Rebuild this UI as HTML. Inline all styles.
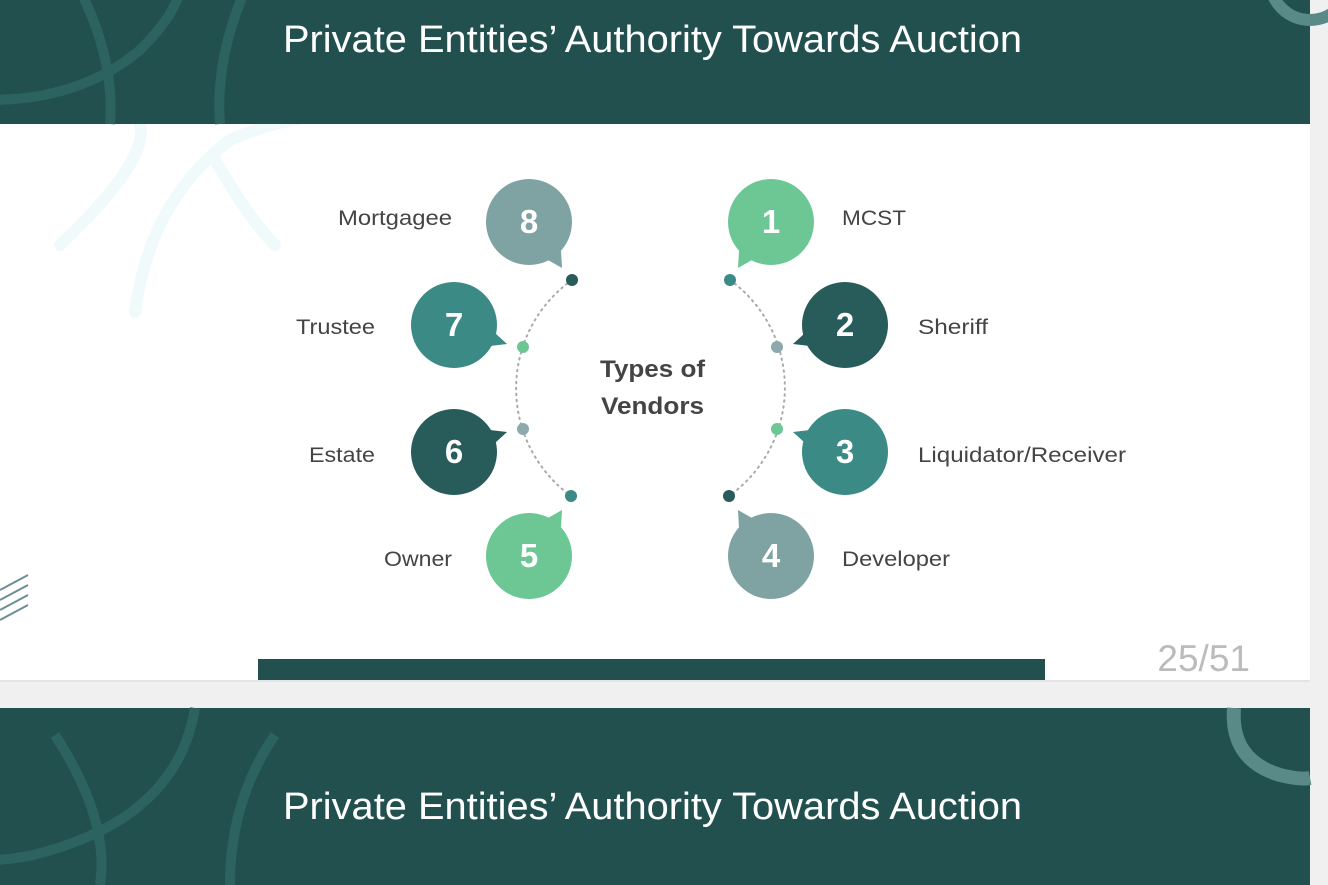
<!DOCTYPE html>
<html><head><meta charset="utf-8"><style>
html,body{margin:0;padding:0;width:1328px;height:885px;overflow:hidden;background:#f0f0f0;font-family:"Liberation Sans",sans-serif}
svg{display:block}
</style></head><body>
<svg width="1328" height="885" viewBox="0 0 1328 885" xmlns="http://www.w3.org/2000/svg" font-family="Liberation Sans, sans-serif">
<rect x="0" y="0" width="1328" height="885" fill="#f0f0f0"/>
<rect x="0" y="124" width="1310" height="556" fill="#ffffff"/>
<g fill="none" stroke="#f0fafa" stroke-width="12" stroke-linecap="round">
<path d="M60 245 Q150 160 140 124"/>
<path d="M135 312 Q150 200 230 140 Q280 118 330 115"/>
<path d="M215 160 Q250 220 275 245"/>
</g>
<rect x="0" y="0" width="1310" height="124" fill="#21504f"/>
<g fill="none" stroke="#2c6361" stroke-width="10">
<path d="M-10 100 Q80 100 140 50 Q175 15 180 -10"/>
<path d="M80 -10 Q115 60 110 124"/>
<path d="M245 -10 Q215 60 220 124"/>
</g>
<circle cx="1310" cy="-20" r="40" fill="none" stroke="#5a8a88" stroke-width="12"/>
<g fill="none" stroke="#6c8e95" stroke-width="2">
<path d="M0 590 L28 575"/><path d="M0 600 L28 585"/><path d="M0 610 L28 595"/><path d="M0 620 L28 605"/>
</g>
<text x="283" y="52" font-size="38" fill="#ffffff" textLength="739" lengthAdjust="spacingAndGlyphs">Private Entities’ Authority Towards Auction</text>

<g fill="none" stroke="#aaa" stroke-width="2" stroke-dasharray="1.5 4.5" stroke-linecap="round">
<path d="M572 280 A133 133 0 0 0 571 496"/>
<path d="M730 280 A133 133 0 0 1 729 496"/>
</g>
<g>
<circle cx="529" cy="222" r="43" fill="#7fa3a2"/><polygon points="562,268 561,250 548,260" fill="#7fa3a2"/>
<circle cx="771" cy="222" r="43" fill="#6cc795"/><polygon points="738,268 752,260 739,250" fill="#6cc795"/>
<circle cx="454" cy="325" r="43" fill="#3b8a86"/><polygon points="507,344 495,333 490,346" fill="#3b8a86"/>
<circle cx="845" cy="325" r="43" fill="#275c5b"/><polygon points="793,344 810,346 805,333" fill="#275c5b"/>
<circle cx="454" cy="452" r="43" fill="#275c5b"/><polygon points="507,432 495,443 490,430" fill="#275c5b"/>
<circle cx="845" cy="452" r="43" fill="#3b8a86"/><polygon points="793,432 805,443 810,430" fill="#3b8a86"/>
<circle cx="529" cy="556" r="43" fill="#6cc795"/><polygon points="562,510 561,528 548,518" fill="#6cc795"/>
<circle cx="771" cy="556" r="43" fill="#7fa3a2"/><polygon points="738,510 752,518 739,528" fill="#7fa3a2"/>
</g>
<g font-size="33" font-weight="bold" fill="#ffffff" text-anchor="middle">
<text x="529" y="233">8</text><text x="771" y="233">1</text>
<text x="454" y="336">7</text><text x="845" y="336">2</text>
<text x="454" y="463">6</text><text x="845" y="463">3</text>
<text x="529" y="567">5</text><text x="771" y="567">4</text>
</g>
<circle cx="572" cy="280" r="6" fill="#275c5b"/>
<circle cx="523" cy="347" r="6" fill="#6cc795"/>
<circle cx="523" cy="429" r="6" fill="#8ea9ab"/>
<circle cx="571" cy="496" r="6" fill="#3b8a86"/>
<circle cx="730" cy="280" r="6" fill="#3b8a86"/>
<circle cx="777" cy="347" r="6" fill="#8ea9ab"/>
<circle cx="777" cy="429" r="6" fill="#6cc795"/>
<circle cx="729" cy="496" r="6" fill="#275c5b"/>
<g font-size="24" font-weight="bold" fill="#444">
<text x="600" y="377" textLength="105" lengthAdjust="spacingAndGlyphs">Types of</text>
<text x="601" y="414" textLength="103" lengthAdjust="spacingAndGlyphs">Vendors</text>
</g>
<g font-size="21" fill="#444">
<text x="338" y="225" textLength="114" lengthAdjust="spacingAndGlyphs">Mortgagee</text>
<text x="296" y="334" textLength="79" lengthAdjust="spacingAndGlyphs">Trustee</text>
<text x="309" y="462" textLength="66" lengthAdjust="spacingAndGlyphs">Estate</text>
<text x="384" y="566" textLength="68" lengthAdjust="spacingAndGlyphs">Owner</text>
<text x="842" y="225" textLength="64" lengthAdjust="spacingAndGlyphs">MCST</text>
<text x="918" y="334" textLength="70" lengthAdjust="spacingAndGlyphs">Sheriff</text>
<text x="918" y="462" textLength="208" lengthAdjust="spacingAndGlyphs">Liquidator/Receiver</text>
<text x="842" y="566" textLength="108" lengthAdjust="spacingAndGlyphs">Developer</text>
</g>
<rect x="258" y="659" width="787" height="21" fill="#21504f"/>
<text x="1250" y="671" font-size="37" fill="#bbbbbb" text-anchor="end">25/51</text>
<rect x="0" y="680" width="1310" height="2" fill="#e4e4e4"/>
<rect x="0" y="708" width="1310" height="177" fill="#21504f"/>
<g fill="none" stroke="#2c6361" stroke-width="10">
<path d="M55 735 Q110 820 100 885"/>
<path d="M195 708 Q180 800 80 840 Q30 860 -10 860"/>
<path d="M275 735 Q230 800 230 885"/>
</g>
<path d="M1234 708 Q1230 760 1280 775 Q1300 780 1310 778" fill="none" stroke="#5a8a88" stroke-width="14"/>
<text x="283" y="819" font-size="38" fill="#ffffff" textLength="739" lengthAdjust="spacingAndGlyphs">Private Entities’ Authority Towards Auction</text>
</svg>
</body></html>
